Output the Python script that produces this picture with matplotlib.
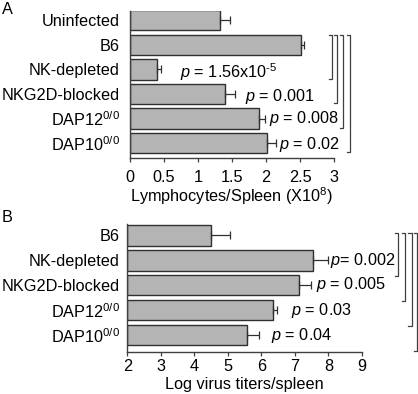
import matplotlib
matplotlib.use("Agg")
import matplotlib.pyplot as plt
import numpy as np

plt.rcParams["font.family"] = ["Liberation Sans", "DejaVu Sans"]
plt.rcParams["mathtext.fontset"] = "custom"
plt.rcParams["mathtext.rm"] = "Liberation Sans"
plt.rcParams["mathtext.it"] = "Liberation Sans:italic"
plt.rcParams["font.size"] = 11.7

# Panel A: lymphocytes per spleen (x10^8)
groups_a = ["Uninfected", "B6", "NK-depleted", "NKG2D-blocked",
            r"DAP12$^{\mathregular{0/0}}$", r"DAP10$^{\mathregular{0/0}}$"]
values_a = [1.33, 2.52, 0.39, 1.39, 1.90, 2.02]
errors_a = [0.14, 0.04, 0.06, 0.16, 0.09, 0.12]
pvals_a = [r"$\it{p}$ = 1.56x10$^{\text{-5}}$", r"$\it{p}$ = 0.001",
           r"$\it{p}$ = 0.008", r"$\it{p}$ = 0.02"]
compare_a = [(1, 2), (1, 3), (1, 4), (1, 5)]

# Panel B: log virus titers per spleen
groups_b = ["B6", "NK-depleted", "NKG2D-blocked",
            r"DAP12$^{\mathregular{0/0}}$", r"DAP10$^{\mathregular{0/0}}$"]
values_b = [4.49, 7.55, 7.13, 6.34, 5.58]
errors_b = [0.58, 0.45, 0.34, 0.14, 0.36]
pvals_b = [r"$\it{p}$= 0.002", r"$\it{p}$ = 0.005",
           r"$\it{p}$ = 0.03", r"$\it{p}$ = 0.04"]
compare_b = [(0, 1), (0, 2), (0, 3), (0, 4)]

bar_color = "#b4b4b4"
edge_color = "#303030"
line_color = "#404040"

fig = plt.figure(figsize=(4.18, 3.94), dpi=100)
ax_a = fig.add_axes([0.311, 0.599, 0.488, 0.374])
ax_b = fig.add_axes([0.3046, 0.1066, 0.561, 0.325])


def draw_bars(ax, groups, values, errors, left, pad):
    y = np.arange(len(groups))
    ax.barh(y, np.array(values) - left, left=left, height=0.82,
            color=bar_color, edgecolor=edge_color, linewidth=1.0, zorder=2)
    ax.errorbar(values, y, xerr=[np.zeros(len(errors)), errors], fmt="none",
                ecolor=edge_color, elinewidth=0.9, capsize=2.6,
                capthick=0.9, zorder=3)
    ax.set_yticks(y)
    ax.set_yticklabels(groups)
    ax.tick_params(axis="y", length=0, pad=pad)
    ax.tick_params(axis="x", direction="out", length=3, width=0.9,
                   color=line_color)
    for side in ["top", "right"]:
        ax.spines[side].set_visible(False)
    for side in ["left", "bottom"]:
        ax.spines[side].set_color(line_color)
        ax.spines[side].set_linewidth(1.0)
    return y


def draw_brackets(ax, pairs, xs, top_off, bot_off):
    for (i, j), x in zip(pairs, xs):
        trans = ax.get_yaxis_transform()
        ys = [i + top_off, i + top_off, j + bot_off, j + bot_off]
        xx = [x - 0.014, x, x, x - 0.014]
        ax.plot(xx, ys, color=line_color, lw=0.9, transform=trans,
                clip_on=False, zorder=4)


# ---- Panel A ----
draw_bars(ax_a, groups_a, values_a, errors_a, 0, 7.5)
ax_a.set_xlim(0, 3)
ax_a.set_ylim(5.61, -0.4)
ax_a.set_xticks([0, 0.5, 1, 1.5, 2, 2.5, 3])
ax_a.set_xticklabels(["0", "0.5", "1", "1.5", "2", "2.5", "3"])
ax_a.tick_params(axis="x", pad=6)
ax_a.set_xlabel(r"Lymphocytes/Spleen (X10$^{8}$)", labelpad=0)
draw_brackets(ax_a, compare_a, [0.990, 1.016, 1.044, 1.078], -0.41, 0.38)
for txt, (x, yy) in zip(pvals_a, [(0.735, 2.12), (1.69, 3.1), (2.04, 4.0), (2.19, 5.05)]):
    ax_a.text(x, yy, txt, va="center", ha="left")

# ---- Panel B ----
draw_bars(ax_b, groups_b, values_b, errors_b, 2, 5.5)
ax_b.set_xlim(2, 9)
ax_b.set_ylim(4.68, -0.46)
ax_b.set_xticks(range(2, 10))
ax_b.tick_params(axis="x", pad=2)
ax_b.set_xlabel("Log virus titers/spleen", labelpad=2)
draw_brackets(ax_b, compare_b, [1.155, 1.185, 1.213, 1.236], -0.1, 0.63)
for txt, (x, yy) in zip(pvals_b, [(8.05, 1.0), (7.63, 1.97), (6.89, 3.0), (6.29, 4.0)]):
    ax_b.text(x, yy, txt, va="center", ha="left")

fig.text(0.005, 0.995, "A", ha="left", va="top", fontsize=11.7)
fig.text(0.005, 0.468, "B", ha="left", va="top", fontsize=11.7)

fig.savefig("out.png", dpi=100)
plt.close(fig)
